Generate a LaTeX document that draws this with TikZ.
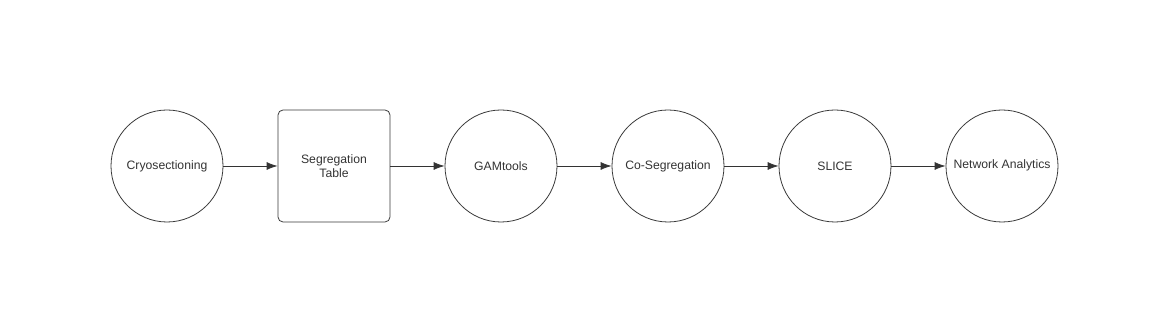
\documentclass[tikz,border=0pt]{standalone}
\usepackage{fontspec}
\setmainfont{Liberation Sans}
\usetikzlibrary{arrows.meta,positioning}
\definecolor{ink}{HTML}{333333}
\definecolor{edge}{HTML}{3A3A3A}

\begin{document}
\begin{tikzpicture}[x=1pt,y=1pt,>={Latex[length=11pt,width=8pt]},
  stage/.style={circle,draw=edge,line width=0.8pt,minimum size=112pt,inner sep=0pt,text=ink,align=center,font=\fontsize{12.2}{14.5}\selectfont},
  tablebox/.style={rectangle,rounded corners=5pt,draw=edge,line width=0.8pt,minimum size=112pt,inner sep=0pt,text=ink,align=center,font=\fontsize{12.2}{14.5}\selectfont},
  flow/.style={->,draw=ink,line width=0.8pt},
  node distance=54.2pt]
\useasboundingbox (0,0) rectangle (1176,321);
\node[stage] (cryo) at (167,155) {Cryosectioning};
\node[tablebox,right=of cryo] (segtab) {Segregation\\Table};
\node[stage,right=of segtab] (gam) {GAMtools};
\node[stage,right=of gam] (coseg) {Co-Segregation};
\node[stage,right=of coseg] (slice) {SLICE};
\node[stage,right=of slice] (netan) {\raisebox{3pt}{Network Analytics}};
\draw[flow] (cryo) -- (segtab);
\draw[flow] (segtab) -- (gam);
\draw[flow] (gam) -- (coseg);
\draw[flow] (coseg) -- (slice);
\draw[flow] (slice) -- (netan);
\end{tikzpicture}
\end{document}
